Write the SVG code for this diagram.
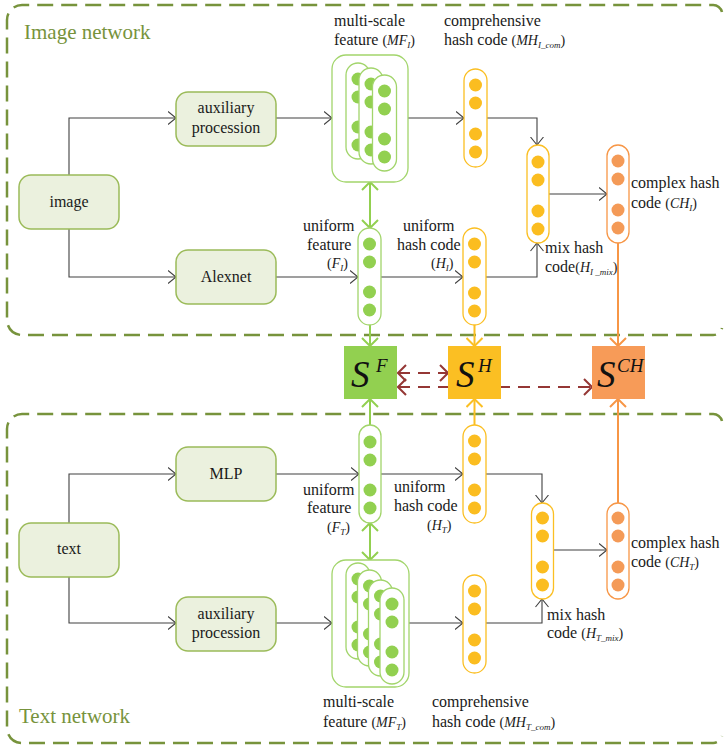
<svg xmlns="http://www.w3.org/2000/svg" width="724" height="749" viewBox="0 0 724 749" style="overflow:hidden" font-family="'Liberation Serif', 'DejaVu Serif', 'Times New Roman', serif">
  <style>
    text { font-family: 'Liberation Serif', 'DejaVu Serif', 'Times New Roman', serif; fill: #1a1a1a; }
    .lbl { font-size: 16px; }
    .title { font-size: 21px; fill: #77933c; }
    .node rect { fill: #ebf1de; stroke: #9bbb59; stroke-width: 1.5; }
    .node text { font-size: 16px; text-anchor: middle; }
    .frame { fill: none; stroke: #77933c; stroke-width: 2.5; stroke-dasharray: 16 8; }
    .conn { fill: none; stroke: #404040; stroke-width: 1.1; marker-end: url(#ah); }
    .gl { fill: none; stroke: #92d050; stroke-width: 2; }
    .yl { fill: none; stroke: #fbbf23; stroke-width: 2; }
    .ol { fill: none; stroke: #f79646; stroke-width: 2; }
    .bl { fill: none; stroke: #953735; stroke-width: 2; stroke-dasharray: 12 8; }
    .gp { fill: #fff; stroke: #a2d56b; stroke-width: 1.3; }
    .yp { fill: #fff; stroke: #fbbf23; stroke-width: 1.3; }
    .op { fill: #fff; stroke: #f79646; stroke-width: 1.3; }
    .gc { fill: #92d050; }
    .yc { fill: #fbbd20; }
    .oc { fill: #f49a57; }
    .msbox { fill: #fff; stroke: #a2d56b; stroke-width: 1.3; }
    .m { font-size: 14px; font-style: italic; }
    .p { font-size: 14px; font-style: normal; }
    .s { font-size: 9px; font-style: italic; }
    .su { font-size: 9px; font-style: normal; }
    .big { font-size: 37px; font-style: italic; fill: #111; }
    .sup { font-size: 19px; font-style: italic; fill: #111; }
  </style>
  <defs>
    <marker id="ah" markerUnits="userSpaceOnUse" viewBox="0 0 9 14" markerWidth="9" markerHeight="14" refX="8.5" refY="7" orient="auto">
      <path d="M0.5,0.5 L8.5,7 L0.5,13.5" fill="none" stroke="#404040" stroke-width="1.1"/>
    </marker>
    <marker id="ahg" markerUnits="userSpaceOnUse" viewBox="0 0 10 18" markerWidth="10" markerHeight="18" refX="9" refY="9" orient="auto-start-reverse">
      <path d="M1,1 L9,9 L1,17" fill="none" stroke="#92d050" stroke-width="2"/>
    </marker>
    <marker id="ahy" markerUnits="userSpaceOnUse" viewBox="0 0 10 18" markerWidth="10" markerHeight="18" refX="9" refY="9" orient="auto-start-reverse">
      <path d="M1,1 L9,9 L1,17" fill="none" stroke="#fbbf23" stroke-width="2"/>
    </marker>
    <marker id="aho" markerUnits="userSpaceOnUse" viewBox="0 0 10 18" markerWidth="10" markerHeight="18" refX="9" refY="9" orient="auto-start-reverse">
      <path d="M1,1 L9,9 L1,17" fill="none" stroke="#f79646" stroke-width="2"/>
    </marker>
    <marker id="ahb" markerUnits="userSpaceOnUse" viewBox="0 0 10 18" markerWidth="10" markerHeight="18" refX="9" refY="9" orient="auto-start-reverse">
      <path d="M1,1 L9,9 L1,17" fill="none" stroke="#953735" stroke-width="2"/>
    </marker>
    <!-- four-dot code vector, origin = pill top centre -->
    <g id="dotsG">
      <circle cx="0" cy="16" r="6.5" class="gc"/><circle cx="0" cy="34" r="6.5" class="gc"/>
      <circle cx="0" cy="64" r="6.5" class="gc"/><circle cx="0" cy="82" r="6.5" class="gc"/>
    </g>
    <g id="dotsY">
      <circle cx="0" cy="16" r="6.5" class="yc"/><circle cx="0" cy="34" r="6.5" class="yc"/>
      <circle cx="0" cy="65" r="6.5" class="yc"/><circle cx="0" cy="83" r="6.5" class="yc"/>
    </g>
    <g id="dotsO">
      <circle cx="0" cy="16" r="6.5" class="oc"/><circle cx="0" cy="34" r="6.5" class="oc"/>
      <circle cx="0" cy="65" r="6.5" class="oc"/><circle cx="0" cy="83" r="6.5" class="oc"/>
    </g>
    <g id="msPill">
      <rect x="-12" y="0" width="24" height="96" rx="12" class="gp"/>
      <use href="#dotsG"/>
    </g>
  </defs>

  <!-- network frames: right side is cut by the canvas edge, only its corners show -->
  <g id="frames">
    <path class="frame" d="M722,12 A9,9 0 0 0 713,5 H22 A15,15 0 0 0 7,20 V320 A15,15 0 0 0 22,335 H713 A9,9 0 0 0 722,328"/>
    <path class="frame" d="M722,421 A9,9 0 0 0 713,414 H22 A15,15 0 0 0 7,429 V728 A15,15 0 0 0 22,743 H713 A9,9 0 0 0 722,736"/>
    <text class="title" x="24" y="39">Image network</text>
    <text class="title" x="19" y="723">Text network</text>
  </g>

  <!-- connectors -->
  <g id="connectors">
    <path class="conn" d="M69,175 V118 H176"/>
    <path class="conn" d="M69,229 V277 H176"/>
    <path class="conn" d="M276,118 H332"/>
    <path class="conn" d="M408,118 H464"/>
    <path class="conn" d="M487,118 H537 V145"/>
    <path class="conn" d="M276,277 H358"/>
    <path class="conn" d="M381,277 H463"/>
    <path class="conn" d="M486,277 H537 V243"/>
    <path class="conn" d="M549,194 H607"/>

    <path class="conn" d="M69,523 V474 H176"/>
    <path class="conn" d="M69,577 V623 H176"/>
    <path class="conn" d="M276,474 H359"/>
    <path class="conn" d="M381,474 H463"/>
    <path class="conn" d="M486,474 H542 V503"/>
    <path class="conn" d="M276,623 H332"/>
    <path class="conn" d="M409,623 H463"/>
    <path class="conn" d="M486,623 H542 V599"/>
    <path class="conn" d="M553,550 H607"/>

    <!-- similarity links -->
    <path class="gl" d="M370,182 V228" marker-start="url(#ahg)" marker-end="url(#ahg)"/>
    <path class="gl" d="M370,325 V346" marker-end="url(#ahg)"/>
    <path class="gl" d="M370,425 V399" marker-end="url(#ahg)"/>
    <path class="gl" d="M370,523 V560" marker-start="url(#ahg)" marker-end="url(#ahg)"/>
    <path class="yl" d="M474.5,325 V346" marker-end="url(#ahy)"/>
    <path class="yl" d="M474.5,425 V399" marker-end="url(#ahy)"/>
    <path class="ol" d="M618,243 V346" marker-end="url(#aho)"/>
    <path class="ol" d="M618,503 V399" marker-end="url(#aho)"/>
    <path class="bl" d="M398,373 H448" marker-start="url(#ahb)" marker-end="url(#ahb)"/>
    <path class="bl" d="M398,387 H592" marker-start="url(#ahb)" marker-end="url(#ahb)"/>
  </g>

  <!-- input and backbone nodes -->
  <g id="n-image" class="node"><rect x="19" y="175" width="100" height="54" rx="12"/><text x="69" y="207">image</text></g>
  <g id="n-aux-i" class="node"><rect x="176" y="92" width="100" height="54" rx="12"/><text x="226" y="113">auxiliary</text><text x="226" y="133">procession</text></g>
  <g id="n-alexnet" class="node"><rect x="176" y="250" width="100" height="54" rx="12"/><text x="226" y="282">Alexnet</text></g>
  <g id="n-text" class="node"><rect x="19" y="523" width="100" height="54" rx="12"/><text x="69" y="554">text</text></g>
  <g id="n-mlp" class="node"><rect x="176" y="447" width="100" height="54" rx="12"/><text x="226" y="479">MLP</text></g>
  <g id="n-aux-t" class="node"><rect x="176" y="597" width="100" height="54" rx="12"/><text x="226" y="619">auxiliary</text><text x="226" y="638">procession</text></g>

  <!-- image branch features -->
  <g id="n-mf-i">
    <rect class="msbox" x="332" y="55" width="76" height="127" rx="14"/>
    <use href="#msPill" x="358" y="63"/>
    <use href="#msPill" x="371" y="68"/>
    <use href="#msPill" x="384.5" y="75"/>
    <text class="lbl" x="334" y="26">multi-scale</text>
    <text class="lbl" x="334" y="45">feature <tspan class="p">(</tspan><tspan class="m">MF</tspan><tspan class="s" dy="3">I</tspan><tspan class="p" dy="-3">)</tspan></text>
  </g>
  <g id="n-mh-i">
    <rect class="yp" x="464" y="69" width="23" height="98" rx="11.5"/>
    <use href="#dotsY" x="475.5" y="69"/>
    <text class="lbl" x="444" y="26">comprehensive</text>
    <text class="lbl" x="444" y="45">hash code <tspan class="p">(</tspan><tspan class="m">MH</tspan><tspan class="s" dy="3">I</tspan><tspan class="su">_</tspan><tspan class="s">com</tspan><tspan class="p" dy="-3">)</tspan></text>
  </g>
  <g id="n-f-i">
    <rect class="gp" x="358" y="228" width="23" height="97" rx="11.5"/>
    <use href="#dotsG" x="369.5" y="228"/>
    <text class="lbl" x="303" y="231">uniform</text>
    <text class="lbl" x="307" y="250">feature</text>
    <text class="lbl" x="327" y="268"><tspan class="p">(</tspan><tspan class="m">F</tspan><tspan class="s" dy="3">I</tspan><tspan class="p" dy="-3">)</tspan></text>
  </g>
  <g id="n-h-i">
    <rect class="yp" x="463" y="228" width="23" height="97" rx="11.5"/>
    <use href="#dotsY" x="474.5" y="228"/>
    <text class="lbl" x="403" y="231">uniform</text>
    <text class="lbl" x="397" y="250">hash code</text>
    <text class="lbl" x="431" y="268"><tspan class="p">(</tspan><tspan class="m">H</tspan><tspan class="s" dy="3">I</tspan><tspan class="p" dy="-3">)</tspan></text>
  </g>
  <g id="n-mix-i">
    <rect class="yp" x="527" y="145" width="22" height="98" rx="11"/>
    <use href="#dotsY" x="538" y="146"/>
    <text class="lbl" x="545" y="253">mix hash</text>
    <text class="lbl" x="545" y="272">code<tspan class="p">(</tspan><tspan class="m">H</tspan><tspan class="s" dy="3">I</tspan><tspan class="su"> _</tspan><tspan class="s">mix</tspan><tspan class="p" dy="-3">)</tspan></text>
  </g>
  <g id="n-ch-i">
    <rect class="op" x="607" y="145" width="22" height="98" rx="11"/>
    <use href="#dotsO" x="618" y="145"/>
    <text class="lbl" x="631" y="188">complex hash</text>
    <text class="lbl" x="631" y="208">code <tspan class="p">(</tspan><tspan class="m">CH</tspan><tspan class="s" dy="3">I</tspan><tspan class="p" dy="-3">)</tspan></text>
  </g>

  <!-- similarity matrices -->
  <g id="n-sf">
    <rect x="344" y="346" width="53" height="53" fill="#92d050"/>
    <text class="big" x="351" y="387">S</text><text class="sup" x="376" y="372">F</text>
  </g>
  <g id="n-sh">
    <rect x="448" y="346" width="53" height="53" fill="#fbbf23"/>
    <text class="big" x="456" y="387">S</text><text class="sup" x="478" y="372">H</text>
  </g>
  <g id="n-sch">
    <rect x="592" y="346" width="53" height="53" fill="#f79b58"/>
    <text class="big" x="597" y="387">S</text><text class="sup" x="617" y="372">CH</text>
  </g>

  <!-- text branch features -->
  <g id="n-f-t">
    <rect class="gp" x="359" y="425" width="22" height="98" rx="11"/>
    <use href="#dotsG" x="370" y="426"/>
    <text class="lbl" x="303" y="495">uniform</text>
    <text class="lbl" x="307" y="513">feature</text>
    <text class="lbl" x="327" y="532"><tspan class="p">(</tspan><tspan class="m">F</tspan><tspan class="s" dy="3">T</tspan><tspan class="p" dy="-3">)</tspan></text>
  </g>
  <g id="n-h-t">
    <rect class="yp" x="463" y="425" width="23" height="98" rx="11.5"/>
    <use href="#dotsY" x="474.5" y="425"/>
    <text class="lbl" x="394" y="492">uniform</text>
    <text class="lbl" x="394" y="511">hash code</text>
    <text class="lbl" x="427" y="530"><tspan class="p">(</tspan><tspan class="m">H</tspan><tspan class="s" dy="3">T</tspan><tspan class="p" dy="-3">)</tspan></text>
  </g>
  <g id="n-mix-t">
    <rect class="yp" x="531.5" y="503" width="22" height="96" rx="11"/>
    <use href="#dotsY" x="542.5" y="502"/>
    <text class="lbl" x="547" y="620">mix hash</text>
    <text class="lbl" x="547" y="638">code <tspan class="p">(</tspan><tspan class="m">H</tspan><tspan class="s" dy="3">T</tspan><tspan class="su">_</tspan><tspan class="s">mix</tspan><tspan class="p" dy="-3">)</tspan></text>
  </g>
  <g id="n-ch-t">
    <rect class="op" x="607" y="503" width="22" height="96" rx="11"/>
    <use href="#dotsO" x="618" y="502"/>
    <text class="lbl" x="631" y="548">complex hash</text>
    <text class="lbl" x="631" y="567">code <tspan class="p">(</tspan><tspan class="m">CH</tspan><tspan class="s" dy="3">T</tspan><tspan class="p" dy="-3">)</tspan></text>
  </g>
  <g id="n-mf-t">
    <rect class="msbox" x="332" y="560" width="77" height="127" rx="14"/>
    <use href="#msPill" x="358" y="563"/>
    <use href="#msPill" x="369.5" y="570"/>
    <use href="#msPill" x="380.5" y="580"/>
    <use href="#msPill" x="392" y="588"/>
    <text class="lbl" x="323" y="707">multi-scale</text>
    <text class="lbl" x="323" y="727">feature <tspan class="p">(</tspan><tspan class="m">MF</tspan><tspan class="s" dy="3">T</tspan><tspan class="p" dy="-3">)</tspan></text>
  </g>
  <g id="n-mh-t">
    <rect class="yp" x="463" y="575" width="23" height="98" rx="11.5"/>
    <use href="#dotsY" x="474.5" y="575"/>
    <text class="lbl" x="432" y="707">comprehensive</text>
    <text class="lbl" x="432" y="727">hash code <tspan class="p">(</tspan><tspan class="m">MH</tspan><tspan class="s" dy="3">T</tspan><tspan class="su">_</tspan><tspan class="s">com</tspan><tspan class="p" dy="-3">)</tspan></text>
  </g>
</svg>
